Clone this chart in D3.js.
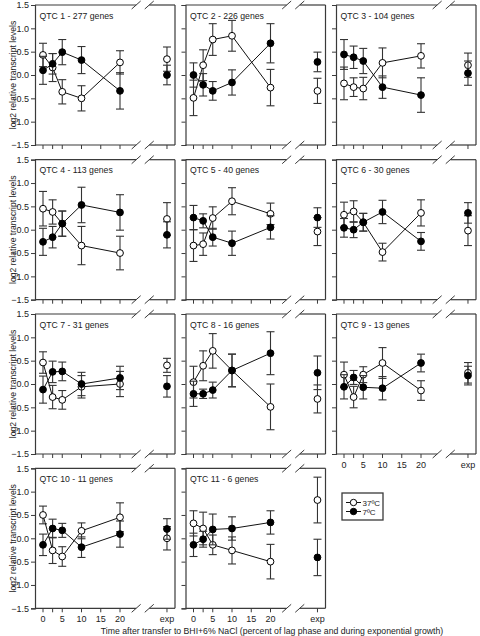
<!DOCTYPE html>
<html><head><meta charset="utf-8">
<script src="https://cdn.jsdelivr.net/npm/d3@7"></script>
<style>
html,body{margin:0;padding:0;background:#fff;}
svg{display:block;font-family:"Liberation Sans",Arial,sans-serif;}
</style></head>
<body><svg id="chart" width="480" height="636"></svg>
<script>
// ---- data ----
const times = [0, 2.5, 5, 10, 20];
const expPos = 32.2; // position of the "exp" sample on the broken time axis
const panelTitles = ["QTC 1 - 277 genes","QTC 2 - 226 genes","QTC 3 - 104 genes","QTC 4 - 113 genes","QTC 5 - 40 genes","QTC 6 - 30 genes","QTC 7 - 31 genes","QTC 8 - 16 genes","QTC 9 - 13 genes","QTC 10 - 11 genes","QTC 11 - 6 genes"];
// values at 0, 2.5, 5, 10, 20, exp
const warm = [
 [0.43, 0.16, -0.36, -0.50, 0.27, 0.34],
 [-0.49, 0.21, 0.76, 0.84, -0.27, -0.34],
 [-0.18, -0.26, -0.29, 0.26, 0.41, 0.21],
 [0.45, 0.38, 0.13, -0.34, -0.50, 0.23],
 [-0.34, -0.31, 0.25, 0.61, 0.34, -0.04],
 [0.32, 0.39, 0.16, -0.48, 0.36, -0.02],
 [0.46, -0.28, -0.34, -0.06, 0.00, 0.40],
 [0.04, 0.39, 0.71, 0.29, -0.49, -0.32],
 [0.20, -0.28, 0.20, 0.45, -0.14, 0.24],
 [0.50, -0.26, -0.39, 0.16, 0.45, 0.00],
 [0.32, 0.21, -0.14, -0.26, -0.50, 0.82]
];
const warmErr = [
 [0.25, 0.30, 0.26, 0.27, 0.25, 0.26],
 [0.38, 0.33, 0.34, 0.33, 0.39, 0.27],
 [0.35, 0.20, 0.24, 0.32, 0.26, 0.26],
 [0.37, 0.26, 0.27, 0.41, 0.36, 0.35],
 [0.34, 0.24, 0.24, 0.29, 0.23, 0.30],
 [0.27, 0.23, 0.19, 0.19, 0.28, 0.32],
 [0.23, 0.25, 0.20, 0.24, 0.27, 0.15],
 [0.34, 0.32, 0.37, 0.35, 0.49, 0.30],
 [0.27, 0.23, 0.17, 0.33, 0.21, 0.22],
 [0.19, 0.28, 0.21, 0.17, 0.31, 0.25],
 [0.27, 0.35, 0.21, 0.29, 0.37, 0.49]
];
const cold = [
 [0.10, 0.24, 0.49, 0.32, -0.34, 0.00],
 [0.00, -0.21, -0.34, -0.16, 0.68, 0.28],
 [0.44, 0.38, 0.30, -0.26, -0.43, 0.04],
 [-0.26, -0.16, 0.13, 0.53, 0.37, -0.11],
 [0.26, 0.19, -0.16, -0.29, 0.05, 0.26],
 [0.04, 0.00, 0.16, 0.38, -0.25, 0.36],
 [-0.12, 0.26, 0.27, 0.00, 0.13, -0.05],
 [-0.21, -0.21, -0.13, 0.29, 0.66, 0.24],
 [-0.06, 0.14, -0.07, -0.09, 0.45, 0.18],
 [-0.14, 0.21, 0.17, -0.19, 0.09, 0.20],
 [-0.14, -0.02, 0.19, 0.21, 0.34, -0.41]
];
const coldErr = [
 [0.30, 0.22, 0.27, 0.29, 0.39, 0.21],
 [0.26, 0.24, 0.20, 0.27, 0.42, 0.21],
 [0.32, 0.24, 0.27, 0.24, 0.37, 0.26],
 [0.29, 0.23, 0.27, 0.38, 0.38, 0.28],
 [0.26, 0.15, 0.19, 0.26, 0.25, 0.21],
 [0.20, 0.17, 0.19, 0.25, 0.19, 0.22],
 [0.29, 0.23, 0.20, 0.25, 0.25, 0.23],
 [0.27, 0.10, 0.17, 0.35, 0.46, 0.36],
 [0.26, 0.15, 0.25, 0.25, 0.19, 0.20],
 [0.23, 0.20, 0.15, 0.22, 0.28, 0.22],
 [0.25, 0.17, 0.33, 0.25, 0.25, 0.39]
];
const xTicks = [0, 2.5, 5, 10, 15, 20];
const xTickLabels = ["0", "", "5", "10", "15", "20"];
const yTicks = [-1.5, -1.0, -0.5, 0.0, 0.5, 1.0, 1.5];
const seriesNames = ["37ºC", "7ºC"];
const yTitle = "log2 relative transcript levels";
const xTitle = "Time after transfer to BHI+6% NaCl (percent of lag phase and during exponential growth)";

// ---- layout ----
const colLeft = [35, 185.5, 336];
const rowTop = [5, 159.7, 314, 468.3];
const W = 140, H = 140;
const frameColor = "#3a3a3a";
const svg = d3.select("#chart");

const x = d3.scaleLinear().domain([0, 20]).range([8, 85]);
const y = d3.scaleLinear().domain([-1.5, 1.5]).range([H, 0]);
const breakA = 24.2, breakB = 27.6;

panelTitles.forEach((title, i) => {
  const col = i % 3, row = Math.floor(i / 3);
  const g = svg.append("g").attr("transform", `translate(${colLeft[col]},${rowTop[row]})`);
  const showXLabels = (i >= 8);
  const showYLabels = (col === 0);

  // y axis
  const yAx = d3.axisLeft(y).tickValues(yTicks).tickSize(4).tickPadding(2)
    .tickFormat(showYLabels ? d3.format(".1f") : () => "");
  const ya = g.append("g").call(yAx);
  ya.select(".domain").attr("stroke", frameColor).attr("stroke-width", 1.2);
  ya.selectAll(".tick line").attr("stroke", frameColor).attr("stroke-width", 1);
  ya.selectAll("text").attr("font-size", 9).attr("fill", "#222").attr("font-family", "Liberation Sans, Arial, sans-serif");

  // right edge
  g.append("line").attr("x1", W).attr("x2", W).attr("y1", 0).attr("y2", H)
    .attr("stroke", frameColor).attr("stroke-width", 1.2);
  // top & bottom with breaks
  [0, H].forEach(yy => {
    g.append("line").attr("x1", 0).attr("x2", x(breakA)).attr("y1", yy).attr("y2", yy)
      .attr("stroke", frameColor).attr("stroke-width", 1.2);
    g.append("line").attr("x1", x(breakB)).attr("x2", W).attr("y1", yy).attr("y2", yy)
      .attr("stroke", frameColor).attr("stroke-width", 1.2);
    [breakA, breakB].forEach(b => {
      g.append("line").attr("x1", x(b) - 4.5).attr("x2", x(b) + 4.5)
        .attr("y1", yy + 4).attr("y2", yy - 4)
        .attr("stroke", frameColor).attr("stroke-width", 1);
    });
  });
  // x ticks
  const xt = g.append("g").attr("transform", `translate(0,${H})`);
  const tickData = xTicks.map((t, k) => ({pos: x(t), label: xTickLabels[k]}))
    .concat([{pos: x(expPos), label: "exp"}]);
  xt.selectAll("line.tk").data(tickData).join("line").attr("class", "tk")
    .attr("x1", d => d.pos).attr("x2", d => d.pos).attr("y1", 0).attr("y2", 4)
    .attr("stroke", frameColor).attr("stroke-width", 1);
  if (showXLabels) {
    xt.selectAll("text").data(tickData).join("text")
      .attr("x", d => d.pos).attr("y", 13.5).attr("text-anchor", "middle")
      .attr("font-size", 9).attr("fill", "#222").text(d => d.label);
  }

  // title
  g.append("text").attr("x", 4.5).attr("y", 13.5).attr("font-size", 8.7).attr("fill", "#222").text(title);

  const allX = times.concat([expPos]);
  const drawSeries = (vals, errs, filled) => {
    const pts = vals.map((v, k) => ({x: x(allX[k]), y: y(v), lo: y(v - errs[k]), hi: y(v + errs[k])}));
    const eb = g.append("g");
    pts.forEach(p => {
      eb.append("line").attr("x1", p.x).attr("x2", p.x).attr("y1", p.lo).attr("y2", p.hi)
        .attr("stroke", "#333").attr("stroke-width", 1.1);
      [p.lo, p.hi].forEach(c => eb.append("line").attr("x1", p.x - 4).attr("x2", p.x + 4)
        .attr("y1", c).attr("y2", c).attr("stroke", "#333").attr("stroke-width", 1.1));
    });
    g.append("path").datum(pts.slice(0, 5))
      .attr("d", d3.line().x(d => d.x).y(d => d.y))
      .attr("fill", "none").attr("stroke", "#111").attr("stroke-width", 1);
    g.append("g").selectAll("circle").data(pts).join("circle")
      .attr("cx", d => d.x).attr("cy", d => d.y).attr("r", 3.4)
      .attr("fill", filled ? "#000" : "#fff").attr("stroke", "#000").attr("stroke-width", 1);
  };
  drawSeries(warm[i], warmErr[i], false);
  drawSeries(cold[i], coldErr[i], true);

  if (col === 0) {
    svg.append("text")
      .attr("transform", `translate(16,${rowTop[row] + H / 2}) rotate(-90)`)
      .attr("text-anchor", "middle").attr("font-size", 8.6).attr("fill", "#222").text(yTitle);
  }
});

// legend
const lg = svg.append("g").attr("transform", "translate(342,493)");
lg.append("rect").attr("x", 0).attr("y", 0).attr("width", 41).attr("height", 27)
  .attr("fill", "#fff").attr("stroke", frameColor).attr("stroke-width", 1.3);
seriesNames.forEach((name, k) => {
  const yy = 9.5 + k * 9;
  lg.append("line").attr("x1", 4).attr("x2", 19).attr("y1", yy).attr("y2", yy).attr("stroke", "#111");
  lg.append("circle").attr("cx", 11.5).attr("cy", yy).attr("r", 3.2)
    .attr("fill", k === 0 ? "#fff" : "#000").attr("stroke", "#000");
  lg.append("text").attr("x", 20.5).attr("y", yy + 3).attr("font-size", 8).attr("fill", "#222").text(name);
});

// x title
svg.append("text").attr("x", 272).attr("y", 634).attr("text-anchor", "middle")
  .attr("font-size", 8.7).attr("fill", "#222").text(xTitle);
</script></body></html>
